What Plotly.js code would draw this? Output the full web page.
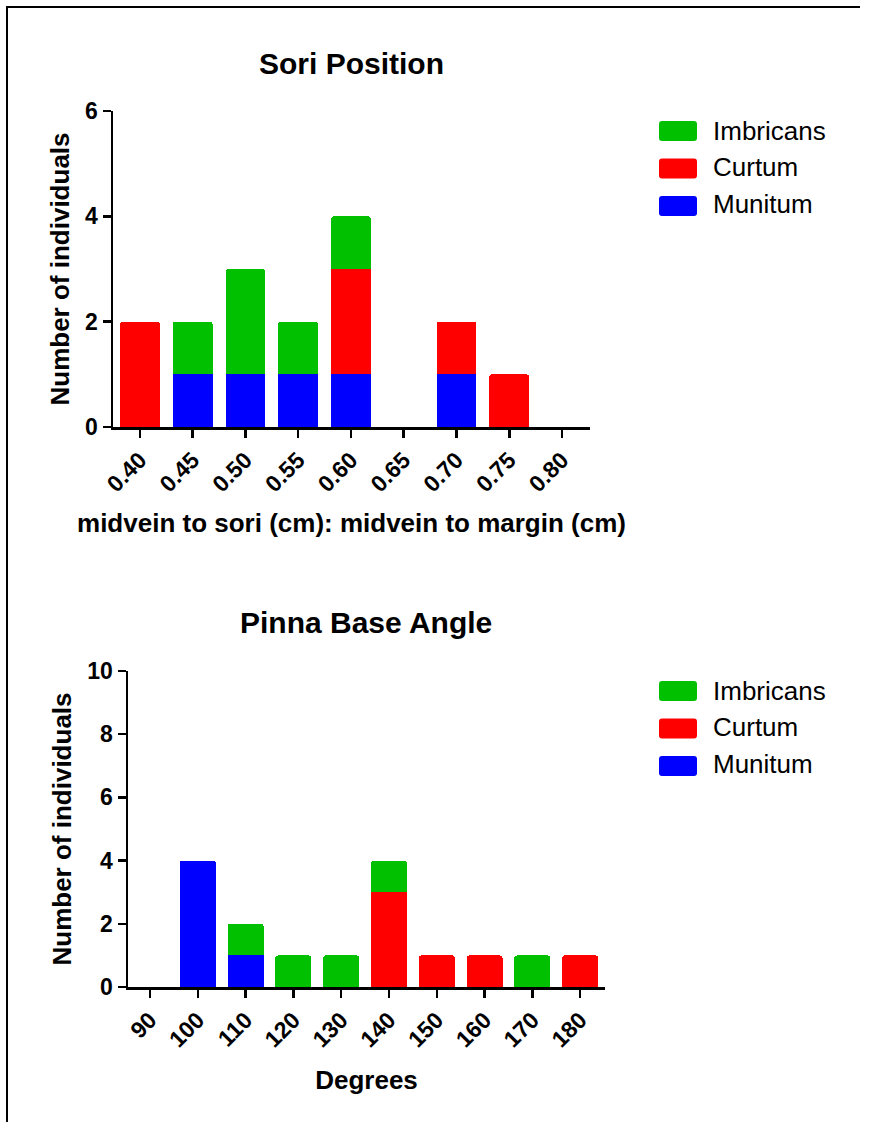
<!DOCTYPE html>
<html>
<head>
<meta charset="utf-8">
<script src="https://cdn.plot.ly/plotly-3.0.1.min.js"></script>
<style>
  html, body { margin: 0; padding: 0; background: #fff; overflow: hidden; }
  #chart { width: 870px; height: 1122px; }
</style>
</head>
<body>
<div id="chart"></div>
<script>
// ---- Data: Sori Position ----
const soriCategories = ["0.40", "0.45", "0.50", "0.55", "0.60", "0.65", "0.70", "0.75", "0.80"];
const soriMunitum   = [0, 1, 1, 1, 1, 0, 1, 0, 0];
const soriCurtum    = [2, 0, 0, 0, 2, 0, 1, 1, 0];
const soriImbricans = [0, 1, 2, 1, 1, 0, 0, 0, 0];

// ---- Data: Pinna Base Angle ----
const angleCategories = ["90", "100", "110", "120", "130", "140", "150", "160", "170", "180"];
const angleMunitum   = [0, 4, 1, 0, 0, 0, 0, 0, 0, 0];
const angleCurtum    = [0, 0, 0, 0, 0, 3, 1, 1, 0, 1];
const angleImbricans = [0, 0, 1, 1, 1, 1, 0, 0, 1, 0];

const legendOrder = ["Imbricans", "Curtum", "Munitum"];
const seriesColors = { Munitum: "#0000FF", Curtum: "#FF0000", Imbricans: "#00C000" };

const FONT = "Liberation Sans, Arial, Helvetica, sans-serif";
const W = 870, H = 1122;
const px = v => v / W;
const py = v => (H - v) / H;

function bar(name, x, y, xa, ya, leg) {
  return {
    type: "bar", name: name, x: x, y: y, xaxis: xa, yaxis: ya, legend: leg,
    marker: { color: seriesColors[name], cornerradius: 3 },
    hoverinfo: "x+y+name"
  };
}

const traces = [
  bar("Munitum", soriCategories, soriMunitum, "x", "y", "legend"),
  bar("Curtum", soriCategories, soriCurtum, "x", "y", "legend"),
  bar("Imbricans", soriCategories, soriImbricans, "x", "y", "legend"),
  bar("Munitum", angleCategories, angleMunitum, "x2", "y2", "legend2"),
  bar("Curtum", angleCategories, angleCurtum, "x2", "y2", "legend2"),
  bar("Imbricans", angleCategories, angleImbricans, "x2", "y2", "legend2")
];

const axisCommon = {
  showline: true, linecolor: "#000", linewidth: 2.5,
  ticks: "outside", ticklen: 8, tickwidth: 2.5, tickcolor: "#000",
  showgrid: false, zeroline: false
};
const xTickFont = { family: FONT, size: 23, color: "#000", weight: "bold" };
const yTickFont = { family: FONT, size: 23, color: "#000", weight: "bold" };
const axTitleFont = { family: FONT, size: 26, weight: "bold", color: "#000" };

const legendCommon = {
  xanchor: "left", yanchor: "top", traceorder: "reversed",
  font: { family: FONT, size: 26, color: "#000" },
  bgcolor: "rgba(0,0,0,0)", itemwidth: 40
};

// Larger rounded legend swatches (drawn under the legend's own symbols, same colours)
function swatch(cx, cy, color) {
  const x0 = px(cx - 19), x1 = px(cx + 19), y0 = py(cy + 10), y1 = py(cy - 10);
  const rx = 3 / W, ry = 3 / H;
  const path = `M ${x0 + rx},${y0} L ${x1 - rx},${y0} Q ${x1},${y0} ${x1},${y0 + ry} ` +
               `L ${x1},${y1 - ry} Q ${x1},${y1} ${x1 - rx},${y1} L ${x0 + rx},${y1} ` +
               `Q ${x0},${y1} ${x0},${y1 - ry} L ${x0},${y0 + ry} Q ${x0},${y0} ${x0 + rx},${y0} Z`;
  return { type: "path", xref: "paper", yref: "paper", path: path,
           fillcolor: color, line: { width: 0 }, layer: "above" };
}
const shapes = [];
legendOrder.forEach((name, i) => {
  shapes.push(swatch(678, 131 + i * 37.5, seriesColors[name]));
  shapes.push(swatch(678, 691 + i * 37.5, seriesColors[name]));
});
// Figure frame (left and top edges visible)
shapes.push({ type: "line", xref: "paper", yref: "paper", x0: px(7), x1: px(7), y0: 0, y1: py(6),
              line: { color: "#000", width: 2 } });
shapes.push({ type: "line", xref: "paper", yref: "paper", x0: px(6), x1: px(860), y0: py(7), y1: py(7),
              line: { color: "#000", width: 2 } });

const layout = {
  width: W, height: H,
  margin: { l: 0, r: 0, t: 0, b: 0 },
  paper_bgcolor: "#fff", plot_bgcolor: "#fff",
  barmode: "stack", bargap: 0.245,
  font: { family: FONT, color: "#000" },
  xaxis: Object.assign({}, axisCommon, {
    domain: [px(113), px(590)], anchor: "y", type: "category",
    range: [-0.51, 8.53], tickangle: -45, tickfont: xTickFont,
    title: { text: "midvein to sori (cm): midvein to margin (cm)", standoff: 18, font: axTitleFont }
  }),
  yaxis: Object.assign({}, axisCommon, {
    domain: [py(427), py(111)], anchor: "x", range: [0, 6],
    tickvals: [0, 2, 4, 6], tickfont: yTickFont,
    title: { text: "Number of individuals", standoff: 8, font: axTitleFont }
  }),
  xaxis2: Object.assign({}, axisCommon, {
    domain: [px(128), px(605)], anchor: "y2", type: "category",
    range: [-0.46, 9.52], tickangle: -45, tickfont: xTickFont,
    title: { text: "Degrees", standoff: 20, font: axTitleFont }
  }),
  yaxis2: Object.assign({}, axisCommon, {
    domain: [py(987), py(671)], anchor: "x2", range: [0, 10],
    tickvals: [0, 2, 4, 6, 8, 10], tickfont: yTickFont,
    title: { text: "Number of individuals", standoff: 8, font: axTitleFont }
  }),
  legend: Object.assign({}, legendCommon, { x: px(663), y: py(106) }),
  legend2: Object.assign({}, legendCommon, { x: px(663), y: py(666) }),
  shapes: shapes,
  annotations: [
    { text: "Sori Position", xref: "paper", yref: "paper", x: px(351), y: py(63),
      xanchor: "center", yanchor: "middle", showarrow: false,
      font: { family: FONT, size: 30, weight: "bold", color: "#000" } },
    { text: "Pinna Base Angle", xref: "paper", yref: "paper", x: px(366), y: py(622),
      xanchor: "center", yanchor: "middle", showarrow: false,
      font: { family: FONT, size: 30, weight: "bold", color: "#000" } }
  ],
  showlegend: true
};

Plotly.newPlot("chart", traces, layout, { displayModeBar: false, staticPlot: true });
</script>
</body>
</html>
